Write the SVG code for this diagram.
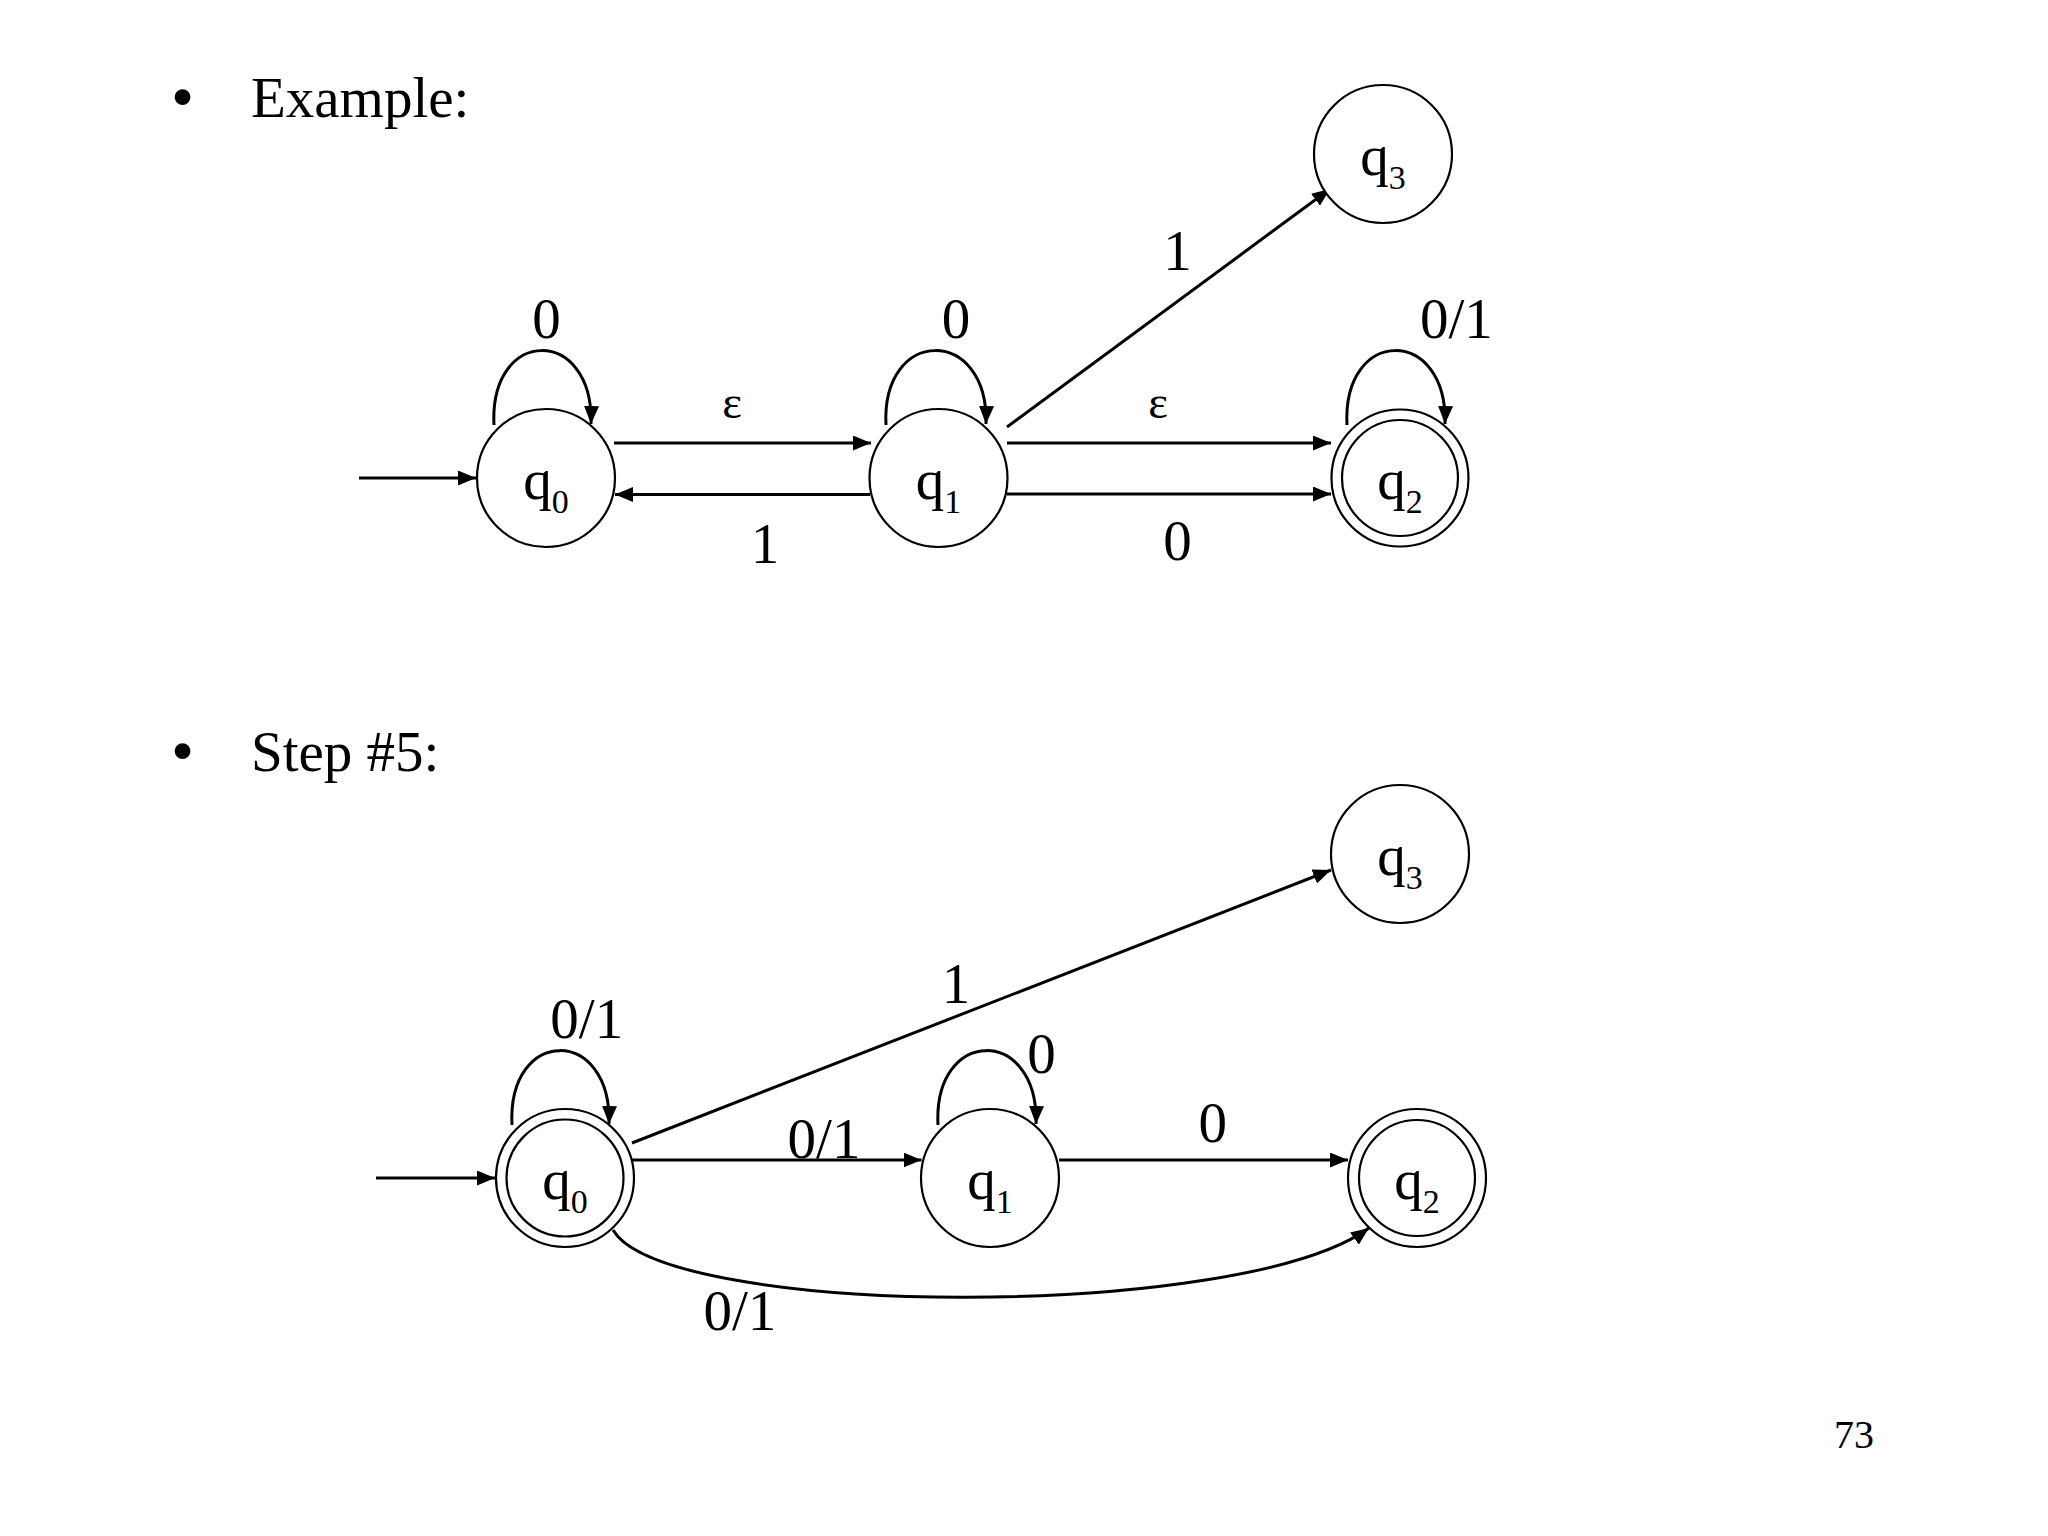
<svg xmlns="http://www.w3.org/2000/svg" width="2048" height="1536" viewBox="0 0 2048 1536">
  <style>
    text { font-family: "Liberation Serif", "Times New Roman", serif; fill: #000; }
    .t { font-size: 57px; }
    .bul { font-size: 66px; }
    .lbl { font-size: 57px; }
    .eps { font-size: 47px; }
    .sub { font-size: 34px; }
    .node { fill: #fff; stroke: #000; stroke-width: 2.2; }
    .edge { fill: none; stroke: #000; stroke-width: 3; marker-end: url(#arrow); }
  </style>
  <defs>
    <marker id="arrow" markerUnits="userSpaceOnUse" markerWidth="19" markerHeight="15" refX="18" refY="7.5" orient="auto">
      <path d="M0,0 L18,7.5 L0,15 z" fill="#000"/>
    </marker>
  </defs>
  <rect width="2048" height="1536" fill="#fff"/>

  <!-- headings -->
  <text class="bul" x="171" y="119">•</text>
  <text class="t" x="251" y="117">Example:</text>
  <text class="bul" x="171" y="773">•</text>
  <text class="t" x="251" y="771">Step #5:</text>
  <text x="1834" y="1448" font-size="40">73</text>

  <!-- ===== Top diagram ===== -->
  <g id="connectors-top">
    <g id="e-top-start"><line class="edge" x1="359" y1="478" x2="476" y2="478"/></g>
    <g id="e-top-q0-q0">
      <path class="edge" d="M494,425 C489,326 594,326 591,424"/>
      <text class="lbl" x="546.5" y="338" text-anchor="middle">0</text>
    </g>
    <g id="e-top-q0-q1">
      <line class="edge" x1="614" y1="443" x2="871" y2="443"/>
      <text class="eps" x="732" y="418" text-anchor="middle">ε</text>
    </g>
    <g id="e-top-q1-q0">
      <line class="edge" x1="870" y1="494.5" x2="615" y2="494.5"/>
      <text class="lbl" x="765" y="563" text-anchor="middle">1</text>
    </g>
    <g id="e-top-q1-q1">
      <path class="edge" d="M886,425 C881,326 989,326 986,424"/>
      <text class="lbl" x="956" y="338" text-anchor="middle">0</text>
    </g>
    <g id="e-top-q1-q3">
      <line class="edge" x1="1007" y1="427" x2="1330" y2="189"/>
      <text class="lbl" x="1177.5" y="270" text-anchor="middle">1</text>
    </g>
    <g id="e-top-q1-q2-eps">
      <line class="edge" x1="1007" y1="443" x2="1331" y2="443"/>
      <text class="eps" x="1158" y="418" text-anchor="middle">ε</text>
    </g>
    <g id="e-top-q1-q2-0">
      <line class="edge" x1="1007" y1="494" x2="1331" y2="494"/>
      <text class="lbl" x="1177.5" y="560" text-anchor="middle">0</text>
    </g>
    <g id="e-top-q2-q2">
      <path class="edge" d="M1347,425 C1342,326 1448,326 1445,424"/>
      <text class="lbl" x="1420" y="338">0/1</text>
    </g>
  </g>

  <g id="top-q0">
    <circle class="node" cx="546" cy="478" r="69"/>
    <text class="lbl" x="546" y="499" text-anchor="middle">q<tspan class="sub" dy="14">0</tspan></text>
  </g>
  <g id="top-q1">
    <circle class="node" cx="938.5" cy="478" r="69"/>
    <text class="lbl" x="938.5" y="499" text-anchor="middle">q<tspan class="sub" dy="14">1</tspan></text>
  </g>
  <g id="top-q2">
    <circle class="node" cx="1400" cy="478" r="68.5"/>
    <circle class="node" cx="1400" cy="478" r="58"/>
    <text class="lbl" x="1400" y="499" text-anchor="middle">q<tspan class="sub" dy="14">2</tspan></text>
  </g>
  <g id="top-q3">
    <circle class="node" cx="1383" cy="154" r="69"/>
    <text class="lbl" x="1383" y="175" text-anchor="middle">q<tspan class="sub" dy="14">3</tspan></text>
  </g>

  <!-- ===== Bottom diagram ===== -->
  <g id="connectors-bottom">
    <g id="e-bot-start"><line class="edge" x1="376" y1="1178" x2="495" y2="1178"/></g>
    <g id="e-bot-q0-q0">
      <path class="edge" d="M512,1125 C507,1026 612,1026 609,1124"/>
      <text class="lbl" x="550.3" y="1038">0/1</text>
    </g>
    <g id="e-bot-q0-q3">
      <line class="edge" x1="632" y1="1143" x2="1331" y2="870"/>
      <text class="lbl" x="956" y="1003" text-anchor="middle">1</text>
    </g>
    <g id="e-bot-q0-q1">
      <line class="edge" x1="632" y1="1160" x2="921.5" y2="1160"/>
      <text class="lbl" x="787.6" y="1158">0/1</text>
    </g>
    <g id="e-bot-q1-q1">
      <path class="edge" d="M938,1125 C933,1026 1039,1026 1036,1124"/>
      <text class="lbl" x="1041.5" y="1073" text-anchor="middle">0</text>
    </g>
    <g id="e-bot-q1-q2">
      <line class="edge" x1="1059" y1="1160" x2="1348" y2="1160"/>
      <text class="lbl" x="1212.7" y="1141.7" text-anchor="middle">0</text>
    </g>
    <g id="e-bot-q0-q2">
      <path class="edge" d="M613,1230 C665,1318 1240,1322 1369,1228"/>
      <text class="lbl" x="703.4" y="1330">0/1</text>
    </g>
  </g>

  <g id="bot-q0">
    <circle class="node" cx="565" cy="1178" r="69"/>
    <circle class="node" cx="565" cy="1178" r="58.5"/>
    <text class="lbl" x="565" y="1199" text-anchor="middle">q<tspan class="sub" dy="14">0</tspan></text>
  </g>
  <g id="bot-q1">
    <circle class="node" cx="990" cy="1178" r="69"/>
    <text class="lbl" x="990" y="1199" text-anchor="middle">q<tspan class="sub" dy="14">1</tspan></text>
  </g>
  <g id="bot-q2">
    <circle class="node" cx="1417" cy="1178" r="69"/>
    <circle class="node" cx="1417" cy="1178" r="58"/>
    <text class="lbl" x="1417" y="1199" text-anchor="middle">q<tspan class="sub" dy="14">2</tspan></text>
  </g>
  <g id="bot-q3">
    <circle class="node" cx="1400" cy="854" r="69"/>
    <text class="lbl" x="1400" y="875" text-anchor="middle">q<tspan class="sub" dy="14">3</tspan></text>
  </g>
</svg>
